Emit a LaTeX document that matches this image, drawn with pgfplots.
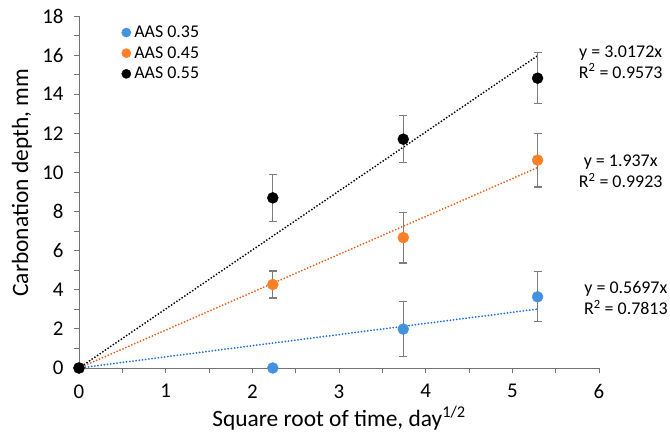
\documentclass[border=0pt]{standalone}
\usepackage{pgfplots}
\pgfplotsset{compat=1.18}
\usepackage{pgfplotstable}
\usepackage{fontspec}
\setmainfont{Carlito}
\definecolor{cblue}{RGB}{66,146,222}
\definecolor{cblueline}{RGB}{30,112,210}
\definecolor{corange}{RGB}{252,128,40}
\definecolor{corangeline}{RGB}{230,95,30}
\definecolor{axgray}{RGB}{115,115,115}
\definecolor{errgray}{RGB}{125,125,125}

\pgfplotstableread{
x y e
0 0 0
2.2361 0 0
3.7417 1.99 1.39
5.2915 3.64 1.28
}\blue
\pgfplotstableread{
x y e
0 0 0
2.2361 4.27 0.69
3.7417 6.67 1.30
5.2915 10.63 1.37
}\orange
\pgfplotstableread{
x y e
0 0 0
2.2361 8.70 1.19
3.7417 11.70 1.20
5.2915 14.82 1.30
}\black

\pgfplotsset{myleg/.style={legend image code/.code={\path[draw=none, fill=none] (-5bp,0bp) rectangle (7bp,0.1bp);\draw[#1, mark size=4.6bp] plot coordinates {(0bp,0bp)};}}}

\begin{document}
\begin{tikzpicture}
\path[use as bounding box] (-79bp,-70bp) rectangle (591bp,368bp);
\begin{axis}[
  at={(0,0)}, anchor=south west,
  scale only axis, width=520bp, height=352bp,
  xmin=0, xmax=6, ymin=0, ymax=18,
  axis x line*=bottom, axis y line*=left,
  axis line style={axgray, line width=1pt},
  xtick={0,1,...,6}, ytick={0,2,...,18},
  minor xtick={0.5,1.5,...,5.5}, minor ytick={1,3,...,17},
  tick align=outside, tick style={axgray, line width=0.9pt},
  major tick length=5bp, minor tick length=5bp,
  /pgf/number format/assume math mode=true,
  tick label style={font=\fontsize{21}{21}\selectfont, black},
  xticklabel style={yshift=-8bp},
  yticklabel style={xshift=-7bp},
  label style={font=\fontsize{23.5}{23.5}\selectfont},
  xlabel={Square root of time, day\textsuperscript{1/2}},
  ylabel={Carbonation depth, mm},
  xlabel style={at={(axis description cs:0.5,-0.143)}, anchor=center},
  ylabel style={at={(axis description cs:-0.1096,0.526)}, anchor=center},
  clip=false,
  legend style={at={(rel axis cs:0.081,0.975)}, anchor=north west, draw=none, fill=none,
    font=\fontsize{18}{18}\selectfont, row sep=5.5bp, inner sep=0pt,
    nodes={inner sep=1bp}},
  legend cell align=left,
  error bars/y dir=both, error bars/y explicit,
  error bars/error bar style={errgray, line width=1.2pt},
  error bars/error mark options={rotate=90, mark size=4bp, errgray, line width=1.2pt},
]
% trendlines
\addplot[forget plot, cblueline, line width=2bp, line cap=round, dash pattern=on 0pt off 3.2bp] coordinates {(0,0) (5.2915,3.015)};
\addplot[forget plot, corangeline, line width=2bp, line cap=round, dash pattern=on 0pt off 3.2bp] coordinates {(0,0) (5.2915,10.250)};
\addplot[forget plot, black, line width=2bp, line cap=round, dash pattern=on 0pt off 3.2bp] coordinates {(0,0) (5.2915,15.966)};
% data
\addplot[only marks, myleg, mark=*, mark size=5.5bp, mark options={draw=cblue, fill=cblue}] table[x=x, y=y, y error=e] {\blue};
\addlegendentry{AAS 0.35}
\addplot[only marks, myleg, mark=*, mark size=5.5bp, mark options={draw=corange, fill=corange}] table[x=x, y=y, y error=e] {\orange};
\addlegendentry{AAS 0.45}
\addplot[only marks, myleg, mark=*, mark size=5.5bp, mark options={draw=black, fill=black}] table[x=x, y=y, y error=e] {\black};
\addlegendentry{AAS 0.55}
% trendline labels
\node[align=center, font=\fontsize{18}{21}\selectfont] at (axis cs:6.25,15.65) {y = 3.0172x\\R\textsuperscript{2} = 0.9573};
\node[align=center, font=\fontsize{18}{21}\selectfont] at (axis cs:6.25,10.05) {y = 1.937x\\R\textsuperscript{2} = 0.9923};
\node[align=center, font=\fontsize{18}{21}\selectfont] at (axis cs:6.31,3.56) {y = 0.5697x\\R\textsuperscript{2} = 0.7813};
\end{axis}
\end{tikzpicture}
\end{document}
